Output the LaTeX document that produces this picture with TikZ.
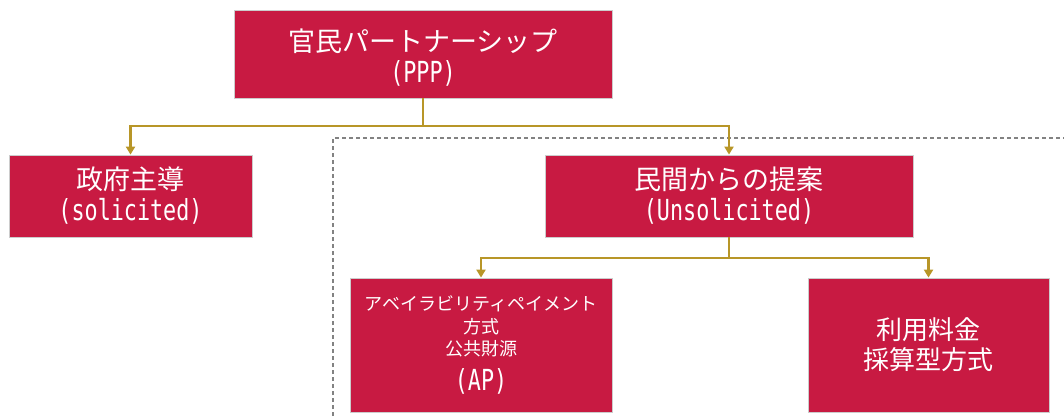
\documentclass[tikz,border=0pt]{standalone}
\usepackage{fontspec}
\setmainfont{Noto Sans CJK JP}
\newfontfamily\latmono[FakeStretch=0.75]{DejaVu Sans Mono}
\usetikzlibrary{arrows.meta}
\definecolor{boxred}{RGB}{200,26,66}
\definecolor{linkgold}{RGB}{184,150,40}
\definecolor{dashgray}{RGB}{130,130,130}
\newcommand{\smalljp}{\fontsize{18}{22.5}\selectfont}
\newcommand{\bigjp}{\fontsize{27}{31}\selectfont}
\newcommand{\midjp}{\fontsize{26}{30}\selectfont}
\newcommand{\latbig}{\fontsize{29}{31}\selectfont\latmono}
\tikzset{
  box/.style={draw=gray!40, line width=0.8pt, fill=boxred, text=white, align=center, inner sep=0pt, font=\bigjp},
  boxtext/.style={text=white, align=center, inner sep=0pt, font=\bigjp},
  link/.style={draw=linkgold, line width=2.4pt},
  linkarrow/.style={link, -{Triangle[width=9pt,length=8pt]}},
  region/.style={draw=dashgray, line width=1.2pt, dash pattern=on 4pt off 3pt}
}
\begin{document}
\begin{tikzpicture}[x=1pt,y=-1pt]
\useasboundingbox (0,0) rectangle (1064,416);
\node[box, minimum width=378pt, minimum height=88pt] (ppp) at (423,54) {};
\node[boxtext] (ppptext) at ([yshift=-4pt]ppp.center) {官民パートナーシップ\\{\latbig (PPP)}};
\node[box, minimum width=243pt, minimum height=82pt] (sol) at (130.5,196) {政府主導\\{\latbig (solicited)}};
\node[box, minimum width=368pt, minimum height=82pt] (unsol) at (729,196) {民間からの提案\\{\latbig (Unsolicited)}};
\node[box, font=\smalljp, minimum width=262pt, minimum height=134pt] (ap) at (481,345) {アベイラビリティペイメント\\方式\\公共財源\\[9.5pt]{\latbig (AP)}};
\node[box, font=\midjp, minimum width=241pt, minimum height=134pt] (fee) at (928.5,345) {利用料金\\採算型方式};
\coordinate (dA) at (333,416);
\coordinate (dB) at (333,138);
\coordinate (dC) at (1064,138);
\draw[region] (dA) -- (dB) -- (dC);
\coordinate (j1) at (423,126);
\draw[link] (ppp.south) -- (j1);
\draw[linkarrow] (j1) -| (sol.north);
\draw[linkarrow] (j1) -| (unsol.north);
\coordinate (j2) at (729,258);
\draw[link] (unsol.south) -- (j2);
\draw[linkarrow] (j2) -| (ap.north);
\draw[linkarrow] (j2) -| (fee.north);
\end{tikzpicture}
\end{document}
